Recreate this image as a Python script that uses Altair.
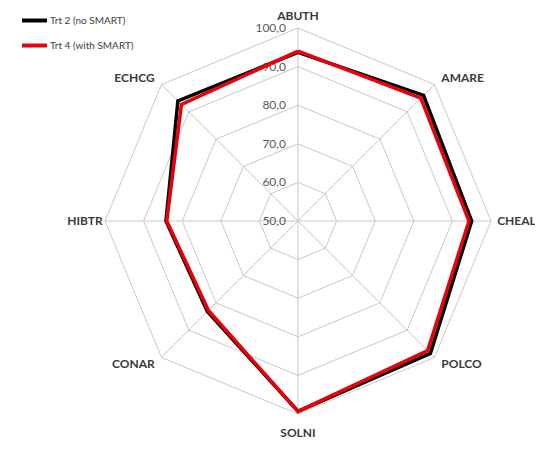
import altair as alt
import pandas as pd

categories = ["ABUTH", "AMARE", "CHEAL", "POLCO", "SOLNI", "CONAR", "HIBTR", "ECHCG"]
series_names = ["Trt 2 (no SMART)", "Trt 4 (with  SMART)"]
trt2 = [93.7, 96.0, 95.0, 98.5, 99.3, 83.2, 84.2, 94.0]
trt4 = [94.0, 95.0, 94.3, 97.5, 99.3, 82.8, 84.0, 92.7]
ring_levels = [60, 70, 80, 90, 100]
tick_levels = [50, 60, 70, 80, 90, 100]
tick_labels = ["50,0", "60,0", "70,0", "80,0", "90,0", "100,0"]
label_align = ["center", "left", "left", "left", "center", "right", "right", "right"]
label_radius = [103.0, 102.5, 101.6, 102.5, 104.8, 102.5, 100.6, 102.5]

n = len(categories)
step = 360 / n

rows = []
for name, vals in zip(series_names, [trt2, trt4]):
    for k in range(n + 1):
        i = k % n
        rows.append({"series": name, "ord": k, "angle": i * step, "value": vals[i]})
lines_df = pd.DataFrame(rows)

ring_rows = []
for lv in ring_levels:
    for k in range(n + 1):
        i = k % n
        ring_rows.append({"level": lv, "ord": k, "angle": i * step, "value": lv})
rings_df = pd.DataFrame(ring_rows)

spokes_df = pd.DataFrame({"angle": [i * step for i in range(n)], "value": [100] * n})
ticks_df = pd.DataFrame({"value": tick_levels, "label": tick_labels})
cats_df = pd.DataFrame({"cat": categories, "angle": [i * step for i in range(n)],
                        "value": label_radius, "align": label_align})

xs = alt.Scale(domain=[-50, 50], nice=False, zero=False)
ys = alt.Scale(domain=[-50, 50], nice=False, zero=False)

xcalc = "(datum.value-50)*sin(datum.angle*PI/180)"
ycalc = "(datum.value-50)*cos(datum.angle*PI/180)"

grid_color = "#c8c8c8"

rings = alt.Chart(rings_df).transform_calculate(x=xcalc, y=ycalc).mark_line(
    color=grid_color, strokeWidth=1
).encode(
    x=alt.X("x:Q", scale=xs, axis=None),
    y=alt.Y("y:Q", scale=ys, axis=None),
    detail="level:N",
    order="ord:Q",
)

spokes = alt.Chart(spokes_df).transform_calculate(
    x=xcalc, y=ycalc, x0="0", y0="0"
).mark_rule(color=grid_color, strokeWidth=1).encode(
    x=alt.X("x0:Q", scale=xs, axis=None),
    y=alt.Y("y0:Q", scale=ys, axis=None),
    x2="x:Q",
    y2="y:Q",
)

ticks = alt.Chart(ticks_df).transform_calculate(x="0", y="datum.value-50").mark_text(
    align="right", baseline="middle", dx=-12, fontSize=12, color="#595959", font="Lato"
).encode(
    x=alt.X("x:Q", scale=xs, axis=None),
    y=alt.Y("y:Q", scale=ys, axis=None),
    text="label:N",
)

cat_layers = []
for al in ["left", "center", "right"]:
    cat_layers.append(
        alt.Chart(cats_df).transform_filter(f"datum.align=='{al}'").transform_calculate(
            x=xcalc, y=ycalc
        ).mark_text(
            align=al, baseline="middle", fontSize=12, fontWeight="bold",
            color="#3a3a3a", font="Lato"
        ).encode(
            x=alt.X("x:Q", scale=xs, axis=None),
            y=alt.Y("y:Q", scale=ys, axis=None),
            text="cat:N",
        )
    )

series_lines = alt.Chart(lines_df).transform_calculate(x=xcalc, y=ycalc).mark_line(
    strokeWidth=3.5, strokeJoin="miter"
).encode(
    x=alt.X("x:Q", scale=xs, axis=None),
    y=alt.Y("y:Q", scale=ys, axis=None),
    color=alt.Color(
        "series:N",
        scale=alt.Scale(domain=series_names, range=["#000000", "#e8000b"]),
        legend=alt.Legend(
            title=None, orient="none", legendX=-85, legendY=-22,
            symbolType="stroke", symbolSize=625, symbolStrokeWidth=4,
            labelFontSize=10, labelFont="Lato", labelColor="#404040",
            labelOffset=1, rowPadding=2, padding=0,
        ),
    ),
    order="ord:Q",
)

chart = alt.layer(rings, spokes, ticks, *cat_layers, series_lines).properties(
    width=386, height=386,
    autosize=alt.AutoSizeParams(type="none"),
    padding={"left": 97, "top": 20, "right": 44, "bottom": 29},
    background="white",
).configure_view(stroke=None)

chart.save("out.html", embed_options={"renderer": "svg", "actions": False})
